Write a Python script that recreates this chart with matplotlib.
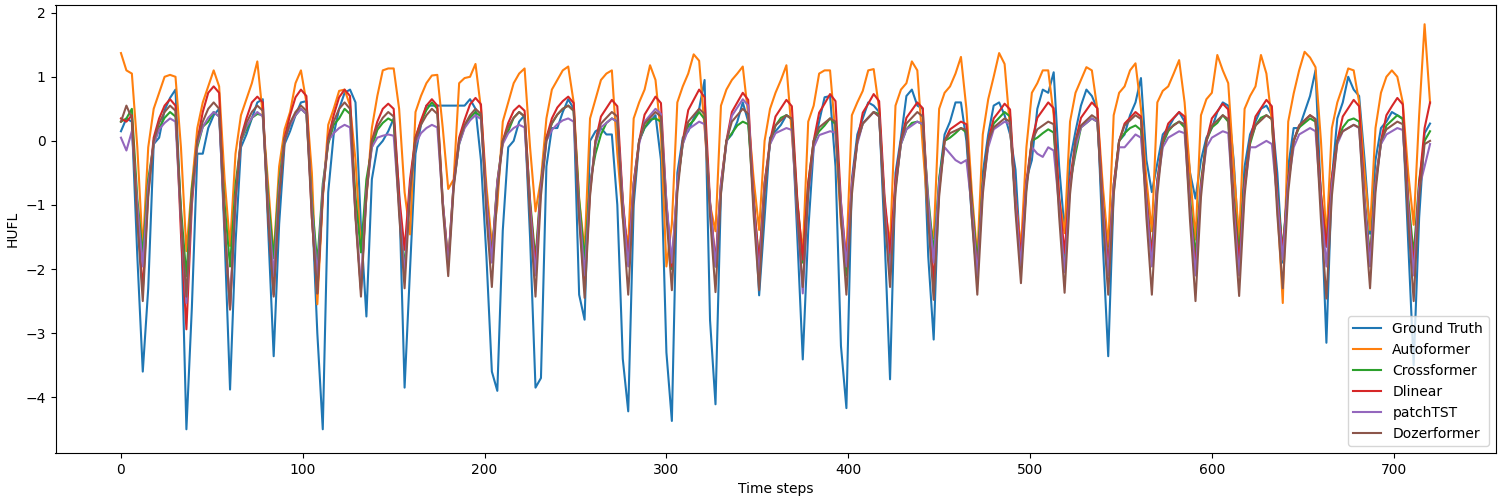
import numpy as np
import matplotlib
matplotlib.use("Agg")
import matplotlib.pyplot as plt

# time axis: one sample every 3 steps (0 .. 720)
steps = np.arange(0, 721, 3)

ground_truth = [
    0.15, 0.35, 0.30, -1.80, -3.60, -2.30, -0.05, 0.05,
    0.48, 0.67, 0.80, -1.20, -4.50, -2.60, -0.20, -0.20,
    0.20, 0.40, 0.50, -1.50, -3.88, -1.60, -0.10, 0.10,
    0.35, 0.60, 0.65, -1.40, -3.36, -1.30, -0.05, 0.15,
    0.40, 0.60, 0.62, -1.00, -3.00, -4.50, -0.80, 0.10,
    0.50, 0.75, 0.80, 0.60, -1.35, -2.74, -0.60, -0.10,
    0.00, 0.15, 0.35, -0.80, -3.85, -2.00, -0.20, 0.25,
    0.55, 0.55, 0.55, 0.55, 0.55, 0.55, 0.55, 0.55,
    0.65, 0.50, -0.30, -1.80, -3.60, -3.90, -1.40, -0.10,
    0.00, 0.30, 0.40, -1.50, -3.85, -3.70, -0.40, 0.20,
    0.20, 0.45, 0.65, 0.50, -2.40, -2.79, 0.00, 0.15,
    0.20, 0.10, 0.10, -1.00, -3.40, -4.22, -1.00, 0.00,
    0.20, 0.30, 0.40, -0.30, -3.30, -4.37, -0.50, 0.05,
    0.15, 0.35, 0.50, 0.95, -2.80, -4.11, -0.80, 0.00,
    0.10, 0.30, 0.60, 0.30, -0.80, -2.41, -1.20, 0.05,
    0.15, 0.25, 0.40, 0.35, -1.50, -3.41, -1.40, -0.10,
    0.30, 0.68, 0.70, -0.40, -3.20, -4.17, -0.60, 0.10,
    0.35, 0.60, 0.55, 0.45, -1.50, -3.72, -0.50, 0.05,
    0.70, 0.80, 0.55, 0.50, -1.80, -3.10, -0.60, 0.10,
    0.30, 0.60, 0.60, 0.00, -1.20, -2.20, -0.50, 0.10,
    0.55, 0.60, 0.40, 0.10, -0.45, -1.90, -0.60, -0.30,
    0.50, 0.80, 0.75, 1.07, -0.40, -1.40, -0.30, 0.15,
    0.55, 0.80, 0.70, 0.50, -1.60, -3.36, -0.80, 0.00,
    0.10, 0.40, 0.60, 0.98, -0.30, -0.80, -0.35, 0.10,
    0.20, 0.35, 0.45, 0.30, -0.50, -0.90, -0.30, 0.05,
    0.20, 0.45, 0.60, 0.55, -0.30, -1.70, -0.40, 0.10,
    0.30, 0.50, 0.55, 0.40, -0.50, -1.90, -0.40, 0.20,
    0.20, 0.45, 0.70, 1.10, -0.90, -3.15, -0.60, 0.35,
    0.60, 1.00, 0.80, 0.70, -0.30, -1.45, -0.30, 0.20,
    0.30, 0.45, 0.40, 0.35, -1.60, -3.50, -1.20, 0.12,
    0.27,
]

autoformer = [
    1.37, 1.10, 1.05, -0.10, -1.70, -0.10, 0.50, 0.75,
    1.00, 1.03, 1.00, -0.10, -1.72, -0.70, 0.20, 0.60,
    0.85, 1.10, 0.85, -0.60, -1.64, -0.20, 0.40, 0.65,
    0.90, 1.24, 0.40, -0.70, -1.80, -0.40, 0.18, 0.45,
    0.90, 1.10, 0.60, -0.50, -2.55, -0.90, 0.25, 0.50,
    0.78, 0.80, 0.55, -0.30, -1.70, -0.90, 0.20, 0.70,
    1.10, 1.13, 1.13, 0.50, -0.80, -1.46, 0.45, 0.70,
    0.90, 1.02, 1.03, 0.20, -0.75, -0.60, 0.90, 0.98,
    1.00, 1.20, 0.50, -0.70, -1.62, -1.00, 0.30, 0.60,
    0.90, 1.05, 1.13, -0.10, -1.10, -0.60, 0.35, 0.80,
    0.95, 1.10, 1.16, 0.60, -0.90, -1.72, 0.35, 0.65,
    0.95, 1.05, 1.10, -0.20, -1.20, -1.62, 0.35, 0.60,
    0.80, 1.18, 0.95, 0.10, -1.96, -1.30, 0.60, 0.85,
    1.05, 1.35, 1.25, 0.20, -1.00, -1.41, 0.55, 0.80,
    0.95, 1.05, 1.16, 0.40, -0.60, -1.39, 0.00, 0.50,
    0.75, 0.95, 1.18, 0.10, -1.00, -1.75, 0.30, 0.55,
    1.05, 1.10, 1.10, 0.10, -1.30, -1.78, 0.40, 0.60,
    0.78, 1.10, 1.12, 0.50, -1.00, -1.62, 0.55, 0.80,
    0.90, 1.24, 1.10, -0.10, -1.20, -1.52, 0.50, 0.75,
    0.85, 1.05, 1.31, 0.50, -0.80, -1.82, 0.10, 0.65,
    1.00, 1.37, 1.20, 0.20, -0.90, -1.67, -0.10, 0.75,
    0.90, 1.10, 1.10, 0.40, -0.90, -1.44, 0.30, 0.75,
    0.95, 1.15, 1.10, 0.50, -0.70, -1.65, 0.40, 0.75,
    0.85, 1.10, 1.21, 0.50, -0.60, -1.41, 0.60, 0.78,
    0.85, 1.05, 1.26, 0.60, -0.50, -1.54, 0.40, 0.65,
    0.75, 1.34, 1.10, 0.90, -0.40, -1.54, 0.50, 0.70,
    0.85, 1.34, 1.05, 0.30, -1.00, -2.53, 0.30, 0.74,
    1.10, 1.39, 1.30, 1.15, 0.00, -1.54, 0.20, 0.60,
    0.85, 1.13, 1.10, 0.60, -0.50, -1.39, 0.20, 0.75,
    1.00, 1.10, 1.00, 0.60, -0.50, -1.31, 0.40, 1.82,
    0.59,
]

crossformer = [
    0.30, 0.35, 0.50, -0.90, -1.78, -0.60, -0.05, 0.20,
    0.36, 0.45, 0.38, -1.05, -2.11, -0.74, -0.10, 0.22,
    0.30, 0.45, 0.38, -0.98, -1.96, -0.69, 0.00, 0.18,
    0.36, 0.42, 0.40, -0.90, -1.83, -0.64, 0.05, 0.25,
    0.40, 0.50, 0.42, -0.95, -1.91, -0.67, -0.05, 0.25,
    0.35, 0.50, 0.42, -0.87, -1.74, -0.60, -0.10, 0.17,
    0.28, 0.35, 0.30, -1.00, -2.00, -0.70, 0.05, 0.30,
    0.48, 0.60, 0.50, -0.95, -1.90, -0.66, -0.05, 0.22,
    0.36, 0.45, 0.38, -0.90, -1.80, -0.63, 0.00, 0.15,
    0.36, 0.45, 0.38, -0.92, -1.85, -0.65, 0.05, 0.27,
    0.41, 0.50, 0.55, 0.47, -0.92, -1.85, -0.65, -0.20,
    0.10, 0.28, 0.35, 0.30, -0.95, -1.90, -0.66, 0.00,
    0.21, 0.33, 0.35, 0.30, -1.00, -2.00, -0.70, -0.05,
    0.24, 0.32, 0.45, 0.34, -0.98, -1.96, -0.69, 0.00,
    0.12, 0.24, 0.30, 0.26, -0.95, -1.90, -0.66, -0.05,
    0.24, 0.36, 0.40, 0.34, -0.95, -1.90, -0.66, 0.00,
    0.15, 0.24, 0.35, 0.26, -1.05, -2.10, -0.73, 0.00,
    0.27, 0.36, 0.45, 0.42, -0.98, -1.96, -0.69, -0.05,
    0.18, 0.28, 0.30, 0.26, -0.88, -1.75, -0.61, 0.00,
    0.05, 0.12, 0.20, 0.13, -0.95, -1.90, -0.66, -0.05,
    0.27, 0.36, 0.45, 0.38, -1.00, -2.00, -0.70, 0.00,
    0.05, 0.12, 0.18, 0.13, -0.95, -1.90, -0.66, -0.20,
    0.21, 0.28, 0.35, 0.30, -0.98, -1.95, -0.68, 0.00,
    0.12, 0.20, 0.24, 0.17, -0.88, -1.75, -0.61, -0.05,
    0.15, 0.25, 0.30, 0.21, -0.90, -1.80, -0.63, 0.00,
    0.21, 0.28, 0.40, 0.30, -0.88, -1.75, -0.61, -0.05,
    0.24, 0.36, 0.40, 0.34, -0.85, -1.70, -0.60, 0.00,
    0.21, 0.28, 0.35, 0.30, -0.83, -1.65, -0.58, 0.00,
    0.21, 0.32, 0.35, 0.30, -0.90, -1.80, -0.63, -0.05,
    0.24, 0.32, 0.40, 0.34, -0.89, -1.78, -0.62, 0.00,
    0.15,
]

dlinear = [
    0.35, 0.30, 0.40, -1.15, -2.33, -0.80, 0.05, 0.35,
    0.55, 0.65, 0.55, -1.45, -2.94, -1.00, 0.00, 0.45,
    0.75, 0.85, 0.75, -1.30, -2.63, -0.90, 0.05, 0.35,
    0.60, 0.69, 0.60, -1.20, -2.40, -0.85, 0.05, 0.40,
    0.68, 0.80, 0.70, -1.20, -2.38, -0.85, 0.05, 0.40,
    0.68, 0.80, 0.70, -1.15, -2.33, -0.80, 0.00, 0.30,
    0.50, 0.58, 0.50, -0.85, -1.70, -0.60, 0.05, 0.32,
    0.55, 0.65, 0.55, -0.95, -1.90, -0.65, 0.05, 0.33,
    0.57, 0.67, 0.57, -0.92, -1.85, -0.65, 0.00, 0.28,
    0.47, 0.55, 0.47, -0.98, -1.96, -0.70, 0.05, 0.35,
    0.52, 0.62, 0.69, 0.59, -1.14, -2.28, -0.80, 0.00,
    0.38, 0.51, 0.64, 0.54, -0.92, -1.85, -0.65, 0.00,
    0.41, 0.55, 0.69, 0.59, -0.98, -1.96, -0.69, 0.00,
    0.48, 0.64, 0.80, 0.68, -0.95, -1.90, -0.66, 0.00,
    0.45, 0.60, 0.75, 0.64, -0.95, -1.90, -0.66, 0.00,
    0.38, 0.51, 0.64, 0.54, -0.92, -1.85, -0.65, 0.00,
    0.44, 0.58, 0.73, 0.62, -0.95, -1.90, -0.66, 0.00,
    0.44, 0.58, 0.73, 0.62, -0.88, -1.75, -0.61, 0.00,
    0.36, 0.48, 0.60, 0.51, -1.10, -2.20, -0.77, 0.00,
    0.18, 0.24, 0.30, 0.26, -1.03, -2.06, -0.72, 0.00,
    0.35, 0.46, 0.58, 0.49, -0.90, -1.80, -0.63, 0.00,
    0.36, 0.48, 0.60, 0.51, -0.88, -1.75, -0.61, 0.00,
    0.36, 0.48, 0.60, 0.51, -0.98, -1.96, -0.69, 0.00,
    0.27, 0.36, 0.45, 0.38, -0.90, -1.80, -0.63, 0.00,
    0.27, 0.36, 0.45, 0.38, -1.00, -2.00, -0.70, 0.00,
    0.35, 0.46, 0.58, 0.49, -0.95, -1.90, -0.66, 0.00,
    0.38, 0.51, 0.64, 0.54, -0.88, -1.75, -0.61, 0.00,
    0.24, 0.32, 0.40, 0.34, -0.83, -1.65, -0.58, 0.00,
    0.38, 0.51, 0.64, 0.54, -0.95, -1.90, -0.66, 0.00,
    0.40, 0.54, 0.67, 0.57, -0.98, -1.96, -0.69, 0.20,
    0.60,
]

patchtst = [
    0.05, -0.15, 0.15, -1.00, -1.96, -0.70, -0.05, 0.18,
    0.28, 0.35, 0.30, -1.25, -2.53, -0.90, -0.05, 0.22,
    0.36, 0.45, 0.38, -1.30, -2.58, -0.90, 0.00, 0.22,
    0.36, 0.45, 0.38, -1.05, -2.11, -0.74, 0.00, 0.25,
    0.40, 0.50, 0.42, -1.05, -2.11, -0.74, 0.00, 0.12,
    0.20, 0.25, 0.21, -1.15, -2.30, -0.80, -0.10, 0.05,
    0.08, 0.10, 0.08, -1.05, -2.10, -0.74, -0.05, 0.12,
    0.20, 0.25, 0.21, -0.98, -1.96, -0.69, -0.05, 0.20,
    0.32, 0.40, 0.34, -0.95, -1.90, -0.66, -0.05, 0.12,
    0.20, 0.25, 0.21, -1.05, -2.10, -0.74, 0.00, 0.17,
    0.26, 0.32, 0.35, 0.30, -1.05, -2.10, -0.74, -0.05,
    0.21, 0.28, 0.35, 0.30, -0.98, -1.96, -0.69, -0.05,
    0.30, 0.40, 0.50, 0.42, -0.95, -1.90, -0.66, -0.05,
    0.18, 0.24, 0.30, 0.26, -0.98, -1.96, -0.69, -0.05,
    0.39, 0.52, 0.65, 0.55, -1.05, -2.10, -0.74, -0.05,
    0.12, 0.16, 0.20, 0.17, -1.19, -2.38, -0.83, -0.10,
    0.09, 0.12, 0.15, 0.13, -0.98, -1.96, -0.69, -0.05,
    0.27, 0.36, 0.45, 0.38, -1.05, -2.10, -0.74, -0.05,
    0.18, 0.24, 0.30, 0.26, -0.95, -1.90, -0.66, -0.10,
    -0.20, -0.30, -0.35, -0.30, -1.05, -2.10, -0.74, -0.10,
    0.18, 0.24, 0.30, 0.26, -0.98, -1.95, -0.68, -0.10,
    -0.20, -0.25, -0.10, -0.15, -1.03, -2.05, -0.72, -0.10,
    0.21, 0.28, 0.35, 0.30, -1.05, -2.10, -0.74, -0.10,
    -0.10, 0.00, 0.10, 0.05, -0.98, -1.96, -0.69, -0.10,
    0.05, 0.10, 0.15, 0.12, -1.05, -2.10, -0.74, -0.10,
    0.05, 0.10, 0.15, 0.12, -1.05, -2.10, -0.74, -0.10,
    -0.10, -0.05, 0.00, -0.05, -0.93, -1.85, -0.65, -0.10,
    0.10, 0.15, 0.20, 0.15, -0.98, -1.96, -0.69, -0.05,
    0.15, 0.20, 0.25, 0.20, -0.98, -1.96, -0.69, -0.05,
    0.10, 0.15, 0.20, 0.17, -1.05, -2.10, -0.74, -0.40,
    -0.05,
]

dozerformer = [
    0.30, 0.55, 0.35, -1.25, -2.50, -0.87, 0.00, 0.28,
    0.45, 0.55, 0.47, -1.20, -2.43, -0.85, 0.00, 0.30,
    0.50, 0.60, 0.50, -1.30, -2.63, -0.90, 0.00, 0.28,
    0.45, 0.55, 0.47, -1.20, -2.43, -0.85, 0.00, 0.28,
    0.45, 0.55, 0.47, -1.20, -2.38, -0.83, 0.00, 0.30,
    0.50, 0.60, 0.50, -1.20, -2.43, -0.85, 0.00, 0.22,
    0.36, 0.45, 0.38, -1.15, -2.30, -0.80, 0.00, 0.25,
    0.40, 0.50, 0.42, -1.05, -2.11, -0.74, 0.00, 0.25,
    0.40, 0.50, 0.42, -1.15, -2.28, -0.80, 0.00, 0.22,
    0.36, 0.45, 0.38, -1.20, -2.43, -0.85, 0.00, 0.28,
    0.41, 0.50, 0.55, 0.47, -1.22, -2.45, -0.86, 0.00,
    0.27, 0.36, 0.45, 0.38, -1.20, -2.40, -0.84, 0.00,
    0.27, 0.36, 0.45, 0.38, -1.17, -2.33, -0.82, 0.00,
    0.30, 0.40, 0.50, 0.42, -1.18, -2.36, -0.83, 0.00,
    0.30, 0.40, 0.50, 0.42, -1.17, -2.33, -0.82, 0.00,
    0.24, 0.32, 0.40, 0.34, -1.14, -2.28, -0.80, 0.00,
    0.21, 0.28, 0.35, 0.30, -1.20, -2.40, -0.84, 0.00,
    0.27, 0.36, 0.45, 0.38, -1.14, -2.28, -0.80, 0.00,
    0.27, 0.36, 0.45, 0.38, -1.24, -2.48, -0.87, 0.00,
    0.12, 0.16, 0.20, 0.17, -1.20, -2.40, -0.84, 0.00,
    0.21, 0.28, 0.35, 0.30, -1.11, -2.22, -0.78, 0.00,
    0.18, 0.24, 0.30, 0.26, -1.18, -2.37, -0.83, 0.00,
    0.24, 0.32, 0.40, 0.34, -1.20, -2.40, -0.84, 0.00,
    0.24, 0.32, 0.40, 0.34, -1.20, -2.40, -0.84, 0.00,
    0.18, 0.24, 0.30, 0.26, -1.25, -2.50, -0.88, 0.00,
    0.24, 0.32, 0.40, 0.34, -1.21, -2.42, -0.85, 0.00,
    0.24, 0.32, 0.40, 0.34, -1.15, -2.30, -0.80, 0.00,
    0.24, 0.32, 0.40, 0.34, -1.23, -2.46, -0.86, 0.00,
    0.15, 0.20, 0.25, 0.21, -1.15, -2.30, -0.80, 0.00,
    0.18, 0.24, 0.30, 0.26, -1.25, -2.50, -0.88, -0.05,
    0.00,
]

series = [
    ("Ground Truth", ground_truth),
    ("Autoformer", autoformer),
    ("Crossformer", crossformer),
    ("Dlinear", dlinear),
    ("patchTST", patchtst),
    ("Dozerformer", dozerformer),
]

fig, ax = plt.subplots(figsize=(15, 5), dpi=100)
for name, vals in series:
    ax.plot(steps, vals, label=name)

ax.set_xlim(-36, 756)
ax.set_ylim(-4.87, 2.12)
ax.set_xlabel("Time steps")
ax.set_ylabel("HUFL")
ax.legend(loc="lower right")
fig.subplots_adjust(left=0.037, right=0.997, top=0.99, bottom=0.094)
fig.savefig("out.png")
